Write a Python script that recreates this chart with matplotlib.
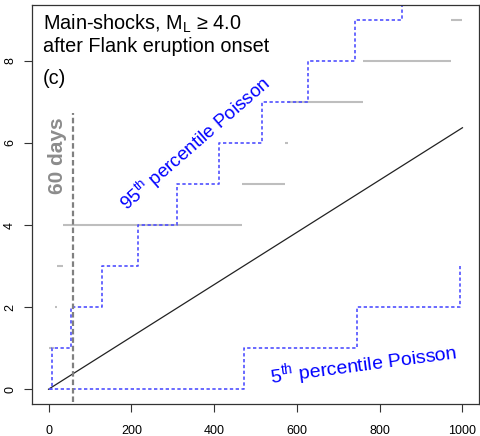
import numpy as np
import matplotlib
matplotlib.use('Agg')
import matplotlib.pyplot as plt

plt.rcParams['font.family'] = ['Liberation Sans', 'DejaVu Sans']
plt.rcParams['mathtext.default'] = 'regular'

# Poisson percentile envelopes: days at which the count steps up by one
p95_days = [0, 8, 54, 128, 215, 310, 412, 516, 627, 741, 855]
p95_count = [0, 1, 2, 3, 4, 5, 6, 7, 8, 9, 10]
p5_days = [0, 472, 746, 993]
p5_count = [0, 1, 2, 3]

# expected count (straight line over the window)
exp_days = [0, 1000]
exp_count = [0, 6.37]

# observed cumulative main-shocks, one segment per level
obs_level = [1, 2, 3, 4, 5, 6, 7, 8, 9]
obs_start = [1, 15, 21, 34, 467, 571, 578, 760, 973]
obs_end = [14, 21, 34, 467, 571, 578, 760, 973, 1000]

cutoff_day = 60

fig = plt.figure(figsize=(4.81, 4.36), dpi=100)
ax = fig.add_axes([32/481, 1 - 404/436, 447/481, 399/436])

for lev, t0, t1 in zip(obs_level, obs_start, obs_end):
    ax.plot([t0, t1], [lev, lev], color='#BEBEBE', lw=1.5, solid_capstyle='butt')

ax.plot(exp_days, exp_count, color='#222222', lw=0.9)

ax.step(p95_days, p95_count, where='post', color='#5050FF', lw=1.2,
        dashes=(2, 1.5))
ax.step(p5_days, p5_count, where='post', color='#5050FF', lw=1.2,
        dashes=(2, 1.5))

ax.plot([cutoff_day, cutoff_day], [-0.3, 6.72], color='#808080', lw=1.6,
        dashes=(2.5, 1.3))

ax.text(21, 5.7, '60 days', rotation=90, color='#8C8C8C', fontsize=15,
        fontweight='bold', ha='center', va='center')
ax.text(356, 5.98, r'95$^{th}$ percentile Poisson', rotation=41, color='blue',
        fontsize=13.5, ha='center', va='center', rotation_mode='anchor')
ax.text(762, 0.6, r'5$^{th}$ percentile Poisson', rotation=7.6, color='blue',
        fontsize=14, ha='center', va='center', rotation_mode='anchor')

ax.text(0.024, 0.937, r'Main-shocks, M$_{L}$ ≥ 4.0', transform=ax.transAxes,
        fontsize=14.3, ha='left', va='baseline')
ax.text(0.024, 0.883, 'after Flank eruption onset', transform=ax.transAxes,
        fontsize=14.3, ha='left', va='baseline')
ax.text(0.024, 0.802, '(c)', transform=ax.transAxes,
        fontsize=14.3, ha='left', va='baseline')

ax.set_xlim(-40, 1040)
ax.set_ylim(-0.36, 9.36)
ax.set_xticks([0, 200, 400, 600, 800, 1000])
ax.set_yticks([0, 2, 4, 6, 8])
ax.tick_params(axis='both', direction='out', length=5.5, width=0.8,
               labelsize=9, color='#333333')
ax.tick_params(axis='x', pad=9.5)
ax.tick_params(axis='y', pad=6)
for lab in ax.get_yticklabels():
    lab.set_rotation(90)
    lab.set_va('center')
for sp in ax.spines.values():
    sp.set_color('#333333')
    sp.set_linewidth(0.9)

fig.savefig('out.png', dpi=100)
